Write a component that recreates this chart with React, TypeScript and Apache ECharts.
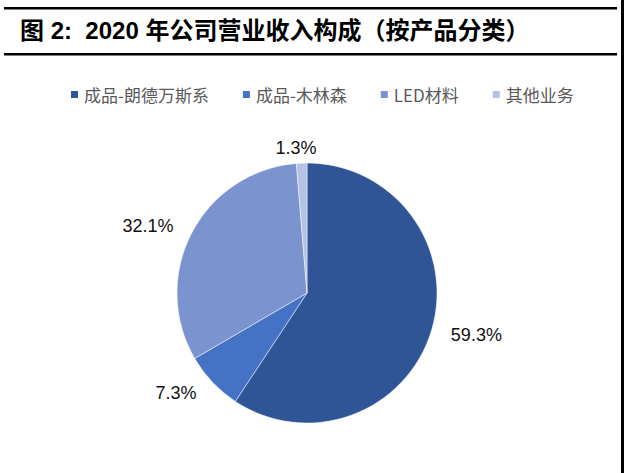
import React, { useEffect, useRef } from "react";
import * as echarts from "echarts";

const titleText = "图 2:  2020 年公司营业收入构成（按产品分类）";
const categories = ["成品-朗德万斯系", "成品-木林森", "LED材料", "其他业务"];
const shares = [59.3, 7.3, 32.1, 1.3];
const colors = ["#2F5597", "#4472C4", "#7B93CF", "#B4C3E3"];

export default function App() {
  const ref = useRef<HTMLDivElement>(null);
  useEffect(() => {
    if (!ref.current) return;
    const chart = echarts.init(ref.current, undefined, { renderer: "svg" });
    chart.setOption({
      animation: false,
      backgroundColor: "#ffffff",
      color: colors,
      graphic: [
        { type: "rect", shape: { x: 4, y: 7, width: 613, height: 2.5 }, style: { fill: "#000" } },
        { type: "rect", shape: { x: 4, y: 53, width: 613, height: 2.5 }, style: { fill: "#000" } },
        { type: "rect", shape: { x: 621, y: 0, width: 3, height: 473 }, style: { fill: "#000" } },
        {
          type: "text",
          left: 20,
          top: 18,
          style: {
            text: titleText,
            fontSize: 24,
            fontWeight: "bold",
            fontFamily: "'Liberation Sans', 'Noto Sans CJK SC', sans-serif",
            fill: "#000",
          },
        },
      ],
      legend: {
        data: categories,
        left: 64,
        top: 81,
        icon: "rect",
        itemWidth: 9,
        itemHeight: 9,
        itemGap: 32,
        textStyle: {
          fontSize: 17,
          color: "#595959",
          fontFamily: "'Noto Sans CJK SC', sans-serif",
        },
      },
      series: [
        {
          type: "pie",
          center: [307, 293],
          radius: [0, 130],
          startAngle: 90,
          clockwise: true,
          avoidLabelOverlap: false,
          data: categories.map((name, i) => ({ name, value: shares[i] })),
          itemStyle: { borderColor: "#ffffff", borderWidth: 0.5 },
          label: {
            show: true,
            position: "outside",
            formatter: (p: any) => p.value.toFixed(1) + "%",
            fontSize: 18,
            color: "#111",
            fontFamily: "'Liberation Sans', Arial, sans-serif",
            distanceToLabelLine: 5,
          },
          labelLine: { show: false, length: 15, length2: 0 },
          labelLayout: (p: any) => (p.dataIndex === 3 ? { align: "center" } : {}),
        },
      ],
    });
    return () => chart.dispose();
  }, []);
  return (
    <div
      ref={ref}
      style={{ position: "fixed", left: 0, top: 0, width: 624, height: 473 }}
    />
  );
}
